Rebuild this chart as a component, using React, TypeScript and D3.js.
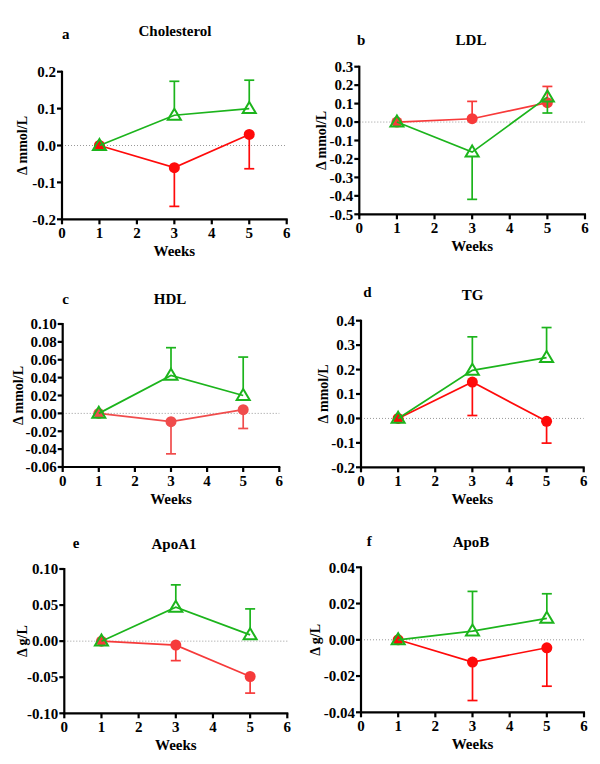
import React from 'react';
import * as d3 from 'd3';

// ---------- data ----------
const weeks = [1, 3, 5];
const xTickValues = [0, 1, 2, 3, 4, 5, 6];

const panelLetters = ['a', 'b', 'c', 'd', 'e', 'f'];
const panelTitles = ['Cholesterol', 'LDL', 'HDL', 'TG', 'ApoA1', 'ApoB'];
const yAxisLabels = ['Δ mmol/L', 'Δ mmol/L', 'Δ mmol/L', 'Δ mmol/L', 'Δ g/L', 'Δ g/L'];

const yDomains = [
  [-0.2, 0.2],
  [-0.5, 0.3],
  [-0.06, 0.1],
  [-0.2, 0.4],
  [-0.1, 0.1],
  [-0.04, 0.04],
];

const yTickLabels = [
  ['-0.2', '-0.1', '0.0', '0.1', '0.2'],
  ['-0.5', '-0.4', '-0.3', '-0.2', '-0.1', '0.0', '0.1', '0.2', '0.3'],
  ['-0.06', '-0.04', '-0.02', '0.00', '0.02', '0.04', '0.06', '0.08', '0.10'],
  ['-0.2', '-0.1', '0.0', '0.1', '0.2', '0.3', '0.4'],
  ['-0.10', '-0.05', '0.00', '0.05', '0.10'],
  ['-0.04', '-0.02', '0.00', '0.02', '0.04'],
];

// red (filled circle) series
const redMeans = [
  [0, -0.06, 0.03],
  [0, 0.018, 0.105],
  [0, -0.0093, 0.0041],
  [0, 0.149, -0.012],
  [0, -0.0055, -0.049],
  [0, -0.0123, -0.0044],
];
const redErrors = [
  [0, 0.105, 0.093],
  [0, 0.094, 0.088],
  [0, 0.036, 0.021],
  [0, 0.137, 0.089],
  [0, 0.0215, 0.023],
  [0, 0.0212, 0.0212],
];
const redErrorDirection = [-1, 1, -1, -1, -1, -1];

// green (open triangle) series
const greenMeans = [
  [0, 0.082, 0.1],
  [0, -0.163, 0.135],
  [0, 0.0425, 0.02],
  [0, 0.197, 0.249],
  [0, 0.047, 0.0087],
  [0, 0.0048, 0.0118],
];
const greenErrors = [
  [0, 0.092, 0.077],
  [0, 0.256, 0.086],
  [0, 0.031, 0.043],
  [0, 0.137, 0.123],
  [0, 0.031, 0.036],
  [0, 0.0219, 0.0136],
];
const greenErrorDirection = [1, -1, 1, 1, 1, 1];

// ---------- layout / style ----------
const layout = [
  { x0: 62, x1: 286.7, yTop: 71.7, yBot: 219.3, letterX: 62, letterY: 39, titleX: 175, titleY: 36, yLabelX: 22 },
  { x0: 359.3, x1: 585, yTop: 66.7, yBot: 214.3, letterX: 357, letterY: 45, titleX: 471, titleY: 45, yLabelX: 320.7 },
  { x0: 62.7, x1: 279.3, yTop: 324, yBot: 467, letterX: 62.3, letterY: 304, titleX: 170, titleY: 304, yLabelX: 18.3 },
  { x0: 361, x1: 583.7, yTop: 320.7, yBot: 467.3, letterX: 363.3, letterY: 297, titleX: 472.7, titleY: 300, yLabelX: 323.3 },
  { x0: 64.3, x1: 287.3, yTop: 569, yBot: 713.3, letterX: 72.7, letterY: 548, titleX: 174, titleY: 549, yLabelX: 21.7 },
  { x0: 361, x1: 584, yTop: 567.3, yBot: 712.3, letterX: 366.7, letterY: 546, titleX: 471, titleY: 547, yLabelX: 315 },
];

const redColors = ['#ff0a0a', '#f83a3a', '#f04c4c', '#ff0a0a', '#f63a3a', '#ff0a0a'];
const GREEN = '#1cb41c';
const FONT = "'Liberation Serif', 'Times New Roman', serif";
const textStyle = { fontFamily: FONT, fontWeight: 700 as const };

const triPath = (cx: number, cy: number) => {
  const w = 13, h = 11;
  return `M${cx},${cy - h * 0.6}L${cx + w / 2},${cy + h * 0.4}L${cx - w / 2},${cy + h * 0.4}Z`;
};

function Panel({ i }: { i: number }) {
  const L = layout[i];
  const x = d3.scaleLinear().domain([0, 6]).range([L.x0, L.x1]);
  const y = d3.scaleLinear().domain(yDomains[i]).range([L.yBot, L.yTop]);
  const red = redColors[i];
  const line = d3.line<[number, number]>().x((d) => x(d[0])).y((d) => y(d[1]));
  const redPts = weeks.map((w, k) => [w, redMeans[i][k]] as [number, number]);
  const greenPts = weeks.map((w, k) => [w, greenMeans[i][k]] as [number, number]);
  const cap = 5;

  return (
    <g>
      <text x={L.letterX} y={L.letterY} style={{ ...textStyle, fontSize: 15 }}>
        {panelLetters[i]}
      </text>
      <text x={L.titleX} y={L.titleY} textAnchor="middle" style={{ ...textStyle, fontSize: 15 }}>
        {panelTitles[i]}
      </text>

      <line x1={x(0)} x2={x(6)} y1={y(0)} y2={y(0)} stroke="#999" strokeWidth={1} strokeDasharray="1,2" />

      <path d={line(redPts) || ''} fill="none" stroke={red} strokeWidth={1.7} />
      {weeks.map((w, k) =>
        redErrors[i][k] > 0 ? (
          <g key={'re' + k} stroke={red} strokeWidth={1.7}>
            <line x1={x(w)} x2={x(w)} y1={y(redMeans[i][k])} y2={y(redMeans[i][k] + redErrorDirection[i] * redErrors[i][k])} />
            <line
              x1={x(w) - cap}
              x2={x(w) + cap}
              y1={y(redMeans[i][k] + redErrorDirection[i] * redErrors[i][k])}
              y2={y(redMeans[i][k] + redErrorDirection[i] * redErrors[i][k])}
            />
          </g>
        ) : null
      )}
      {weeks.map((w, k) => (
        <circle key={'rc' + k} cx={x(w)} cy={y(redMeans[i][k])} r={5.5} fill={red} />
      ))}

      <path d={line(greenPts) || ''} fill="none" stroke={GREEN} strokeWidth={1.7} />
      {weeks.map((w, k) =>
        greenErrors[i][k] > 0 ? (
          <g key={'ge' + k} stroke={GREEN} strokeWidth={1.7}>
            <line
              x1={x(w)}
              x2={x(w)}
              y1={y(greenMeans[i][k]) + (greenErrorDirection[i] > 0 ? -6.6 : 4.4)}
              y2={y(greenMeans[i][k] + greenErrorDirection[i] * greenErrors[i][k])}
            />
            <line
              x1={x(w) - cap}
              x2={x(w) + cap}
              y1={y(greenMeans[i][k] + greenErrorDirection[i] * greenErrors[i][k])}
              y2={y(greenMeans[i][k] + greenErrorDirection[i] * greenErrors[i][k])}
            />
          </g>
        ) : null
      )}
      {weeks.map((w, k) => (
        <path key={'gt' + k} d={triPath(x(w), y(greenMeans[i][k]))} fill="none" stroke={GREEN} strokeWidth={2} />
      ))}

      <g stroke="#000" strokeWidth={2.2}>
        <line x1={L.x0} x2={L.x0} y1={L.yTop - 1} y2={L.yBot + 1} />
        <line x1={L.x0 - 1} x2={L.x1 + 1} y1={L.yBot} y2={L.yBot} />
        {yTickLabels[i].map((t) => (
          <line key={'yt' + t} x1={L.x0 - 5} x2={L.x0} y1={y(+t)} y2={y(+t)} />
        ))}
        {xTickValues.map((t) => (
          <line key={'xt' + t} x1={x(t)} x2={x(t)} y1={L.yBot} y2={L.yBot + 5} />
        ))}
      </g>
      {yTickLabels[i].map((t) => (
        <text key={'yl' + t} x={L.x0 - 6} y={y(+t)} dy="0.35em" textAnchor="end" style={{ ...textStyle, fontSize: 15 }}>
          {t}
        </text>
      ))}
      {xTickValues.map((t) => (
        <text key={'xl' + t} x={x(t)} y={L.yBot + 19} textAnchor="middle" style={{ ...textStyle, fontSize: 15 }}>
          {t}
        </text>
      ))}
      <text x={(L.x0 + L.x1) / 2} y={L.yBot + 37} textAnchor="middle" style={{ ...textStyle, fontSize: 15 }}>
        Weeks
      </text>
      <text
        transform={`translate(${L.yLabelX},${(L.yTop + L.yBot) / 2}) rotate(-90)`}
        dy="0.35em"
        textAnchor="middle"
        style={{ ...textStyle, fontSize: 14 }}
      >
        {yAxisLabels[i]}
      </text>
    </g>
  );
}

export default function App() {
  return (
    <svg width={600} height={764} style={{ position: 'absolute', left: 0, top: 0, background: '#fff' }}>
      <rect width={600} height={764} fill="#fff" />
      {panelTitles.map((_, i) => (
        <Panel key={i} i={i} />
      ))}
    </svg>
  );
}
